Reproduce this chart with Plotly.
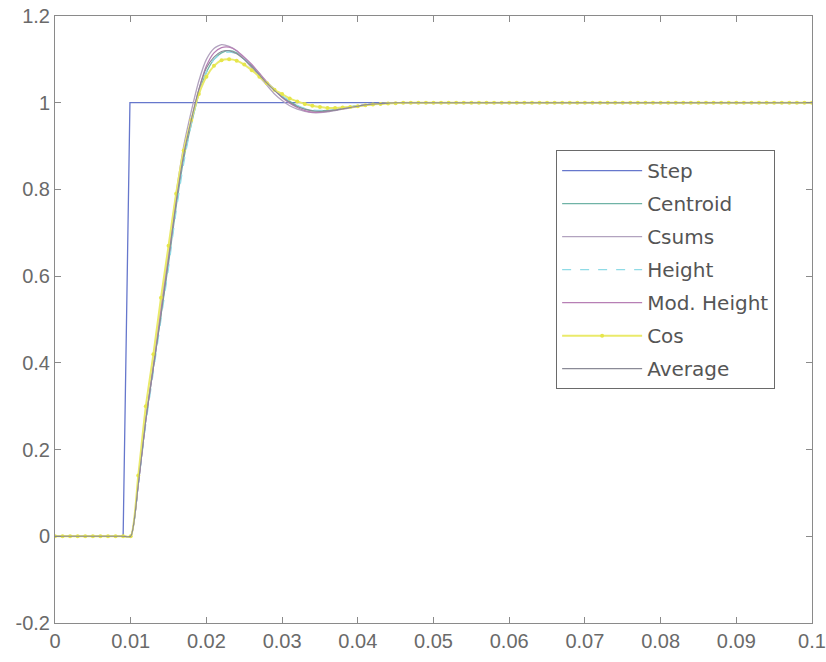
import numpy as np
import plotly.graph_objects as go

# time grid (s), 1 ms sampling
t = [round(i * 0.001, 3) for i in range(101)]

# step input
step_t = [0.0, 0.009, 0.0099, 0.1]
step_y = [0.0, 0.0, 1.0, 1.0]

pre = [0.0] * 11     # t = 0 .. 0.010
post = [1.0] * 54    # t = 0.047 .. 0.100

centroid = pre + [0.12, 0.27, 0.39, 0.51, 0.63, 0.76, 0.87, 0.95, 1.02, 1.07,
                  1.10, 1.115, 1.12, 1.115, 1.10, 1.085, 1.065, 1.045, 1.03, 1.015,
                  1.003, 0.993, 0.986, 0.982, 0.981, 0.982, 0.984, 0.987, 0.990, 0.993,
                  0.995, 0.997, 0.998, 0.999, 1.0, 1.0] + post
csums = pre + [0.12, 0.27, 0.40, 0.53, 0.66, 0.79, 0.90, 0.98, 1.05, 1.10,
               1.125, 1.134, 1.13, 1.12, 1.10, 1.08, 1.06, 1.04, 1.02, 1.005,
               0.993, 0.985, 0.980, 0.977, 0.977, 0.979, 0.982, 0.985, 0.988, 0.991,
               0.994, 0.996, 0.998, 0.999, 1.0, 1.0] + post
height = pre + [0.12, 0.26, 0.38, 0.50, 0.62, 0.75, 0.86, 0.95, 1.02, 1.07,
                1.10, 1.113, 1.117, 1.113, 1.10, 1.086, 1.067, 1.047, 1.031, 1.016,
                1.004, 0.994, 0.987, 0.983, 0.982, 0.983, 0.985, 0.988, 0.991, 0.993,
                0.995, 0.997, 0.998, 0.999, 1.0, 1.0] + post
mod_height = pre + [0.12, 0.27, 0.39, 0.52, 0.64, 0.77, 0.88, 0.96, 1.03, 1.085,
                    1.115, 1.127, 1.128, 1.12, 1.105, 1.088, 1.068, 1.048, 1.03, 1.012,
                    0.999, 0.989, 0.982, 0.978, 0.978, 0.980, 0.983, 0.986, 0.989, 0.992,
                    0.995, 0.997, 0.998, 0.999, 1.0, 1.0] + post
cos = pre + [0.14, 0.30, 0.42, 0.55, 0.67, 0.79, 0.89, 0.96, 1.02, 1.06,
             1.085, 1.098, 1.10, 1.097, 1.088, 1.075, 1.06, 1.045, 1.03, 1.02,
             1.01, 1.003, 0.997, 0.993, 0.99, 0.988, 0.988, 0.989, 0.99, 0.992,
             0.994, 0.996, 0.997, 0.998, 0.999, 1.0] + post
average = pre + [0.12, 0.27, 0.39, 0.51, 0.64, 0.77, 0.88, 0.96, 1.03, 1.08,
                 1.105, 1.118, 1.12, 1.113, 1.10, 1.083, 1.064, 1.045, 1.028, 1.013,
                 1.001, 0.991, 0.985, 0.981, 0.980, 0.981, 0.983, 0.986, 0.989, 0.992,
                 0.995, 0.997, 0.998, 0.999, 1.0, 1.0] + post

x_ticks = [0, 0.01, 0.02, 0.03, 0.04, 0.05, 0.06, 0.07, 0.08, 0.09, 0.1]
x_labels = ["0", "0.01", "0.02", "0.03", "0.04", "0.05", "0.06", "0.07", "0.08", "0.09", "0.1"]
y_ticks = [-0.2, 0, 0.2, 0.4, 0.6, 0.8, 1, 1.2]
y_labels = ["-0.2", "0", "0.2", "0.4", "0.6", "0.8", "1", "1.2"]

fig = go.Figure()
fig.add_trace(go.Scatter(x=step_t, y=step_y, name="Step", mode="lines",
                         line=dict(color="#6677cc", width=1.3), legendgroup="a"))
fig.add_trace(go.Scatter(x=t, y=centroid, name="Centroid", mode="lines",
                         line=dict(color="#6fb3a6", width=1.3, shape="spline", smoothing=0.6), legendgroup="b"))
fig.add_trace(go.Scatter(x=t, y=csums, name="Csums", mode="lines",
                         line=dict(color="#b2a3bf", width=1.3, shape="spline", smoothing=0.6), legendgroup="c"))
fig.add_trace(go.Scatter(x=t, y=height, name="Height", mode="lines",
                         line=dict(color="#8fdbe6", width=1.3, dash="dash", shape="spline", smoothing=0.6), legendgroup="d"))
fig.add_trace(go.Scatter(x=t, y=mod_height, name="Mod. Height", mode="lines",
                         line=dict(color="#b77fb5", width=1.3, shape="spline", smoothing=0.6), legendgroup="e"))
fig.add_trace(go.Scatter(x=t, y=cos, name="Cos", mode="lines+markers",
                         line=dict(color="#eaea6a", width=2, shape="spline", smoothing=0.6),
                         marker=dict(color="#e6e64a", size=4, symbol="circle"), legendgroup="f"))
fig.add_trace(go.Scatter(x=t, y=average, name="Average", mode="lines",
                         line=dict(color="#8a8a96", width=1.1, shape="spline", smoothing=0.6), legendgroup="g"))

axis_common = dict(showgrid=False, zeroline=False, showline=True, linecolor="#8a8a8a",
                   linewidth=1, mirror="ticks", ticks="inside", ticklen=6, tickcolor="#8a8a8a",
                   automargin=False, ticklabeloverflow="allow",
                   tickfont=dict(family="Liberation Sans, Arial", size=20, color="#6a6a6a"))

fig.update_xaxes(range=[0, 0.1], tickvals=x_ticks, ticktext=x_labels, **axis_common)
fig.update_yaxes(range=[-0.2, 1.2], tickvals=y_ticks, ticktext=y_labels, **axis_common)

fig.update_layout(
    width=826, height=662,
    margin=dict(l=55, r=14, t=16, b=39),
    plot_bgcolor="white", paper_bgcolor="white",
    legend=dict(x=0.662, y=0.779, xanchor="left", yanchor="top",
                bgcolor="white", bordercolor="#6a6a6a", borderwidth=1,
                font=dict(family="DejaVu Sans, Liberation Sans", size=20, color="#555555"),
                tracegroupgap=4, itemwidth=80),
)

# remove the browser's default 8 px body margin so the figure fills the window
fig.write_html("out.html", config={"displayModeBar": False},
               post_script="document.body.style.margin='0';")
